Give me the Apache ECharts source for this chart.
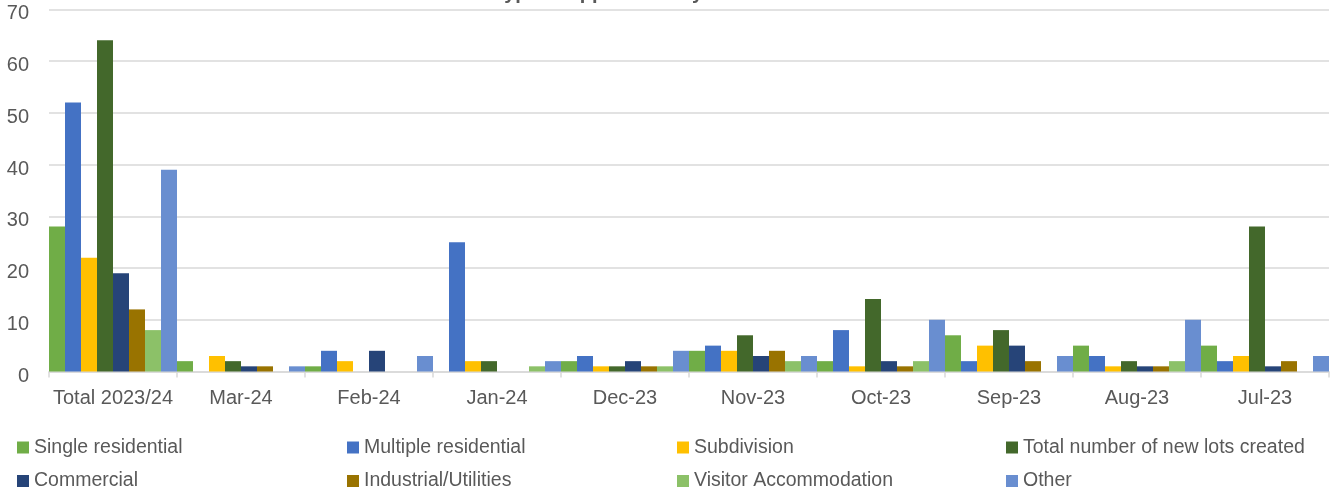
<!DOCTYPE html>
<html>
<head>
<meta charset="utf-8">
<script src="https://cdn.jsdelivr.net/npm/echarts@6/dist/echarts.min.js"></script>
<style>
html,body{margin:0;padding:0;background:#fff;}
#chart{width:1338px;height:492px;}
</style>
</head>
<body>
<div id="chart"></div>
<script>
const categories = ['Total 2023/24','Mar-24','Feb-24','Jan-24','Dec-23','Nov-23','Oct-23','Sep-23','Aug-23','Jul-23'];
const seriesNames = ['Single residential','Multiple residential','Subdivision','Total number of new lots created','Commercial','Industrial/Utilities','Visitor Accommodation','Other'];
const singleResidential   = [28, 2, 1, 0, 2, 4, 2, 7, 5, 5];
const multipleResidential = [52, 0, 4, 25, 3, 5, 8, 2, 3, 2];
const subdivision         = [22, 3, 2, 2, 1, 4, 1, 5, 1, 3];
const newLots             = [64, 2, 0, 2, 1, 7, 14, 8, 2, 28];
const commercial          = [19, 1, 4, 0, 2, 3, 2, 5, 1, 1];
const industrial          = [12, 1, 0, 0, 1, 4, 1, 2, 1, 2];
const visitorAccom        = [8, 0, 0, 1, 1, 2, 2, 0, 2, 0];
const other               = [39, 1, 3, 2, 4, 3, 10, 3, 10, 3];
const yTicks = [0, 10, 20, 30, 40, 50, 60, 70];
const titleText = 'Number of decisions on each type of application by month';

const values = [singleResidential, multipleResidential, subdivision, newLots, commercial, industrial, visitorAccom, other];
const colors = ['#70AD47','#4472C4','#FFC000','#43682B','#264478','#997300','#8CC168','#698ED0'];
const legendPos = [
  {left: 17, top: 437.5}, {left: 347, top: 437.5}, {left: 677, top: 437.5}, {left: 1006, top: 437.5},
  {left: 17, top: 471}, {left: 347, top: 471}, {left: 677, top: 471}, {left: 1006, top: 471}
];
const font = 'Liberation Sans';
const chart = echarts.init(document.getElementById('chart'), null, {renderer: 'canvas'});
chart.setOption({
  animation: false,
  backgroundColor: '#fff',
  color: colors,
  title: {
    text: titleText,
    left: 213, top: -17, padding: 0,
    textStyle: {fontFamily: font, fontSize: 20, fontWeight: 'bold', color: '#595959'}
  },
  legend: seriesNames.map((n, i) => ({
    data: [n], left: legendPos[i].left, top: legendPos[i].top, padding: 0,
    itemWidth: 12, itemHeight: 12, icon: 'rect', selectedMode: false,
    textStyle: {fontFamily: font, fontSize: 19.5, color: '#595959'}
  })),
  grid: {left: 49, right: 9, top: 9.3, bottom: 120.5, containLabel: false},
  xAxis: {
    type: 'category', data: categories,
    axisLine: {lineStyle: {color: '#D9D9D9', width: 1.5}},
    axisTick: {show: true, length: 6, lineStyle: {color: '#D9D9D9', width: 1.5}},
    axisLabel: {interval: 0, fontFamily: font, fontSize: 20, color: '#595959', margin: 17}
  },
  yAxis: {
    type: 'value', min: yTicks[0], max: yTicks[yTicks.length-1], interval: 10,
    axisLine: {show: false}, axisTick: {show: false},
    splitLine: {lineStyle: {color: '#D9D9D9', width: 1.5}},
    axisLabel: {fontFamily: font, fontSize: 20, color: '#595959', margin: 20, verticalAlign: 'top', lineHeight: 9}
  },
  series: seriesNames.map((n, i) => ({
    name: n, type: 'bar', data: values[i],
    barGap: '0%', barCategoryGap: '0%',
    itemStyle: {color: colors[i]}
  }))
});
</script>
</body>
</html>
